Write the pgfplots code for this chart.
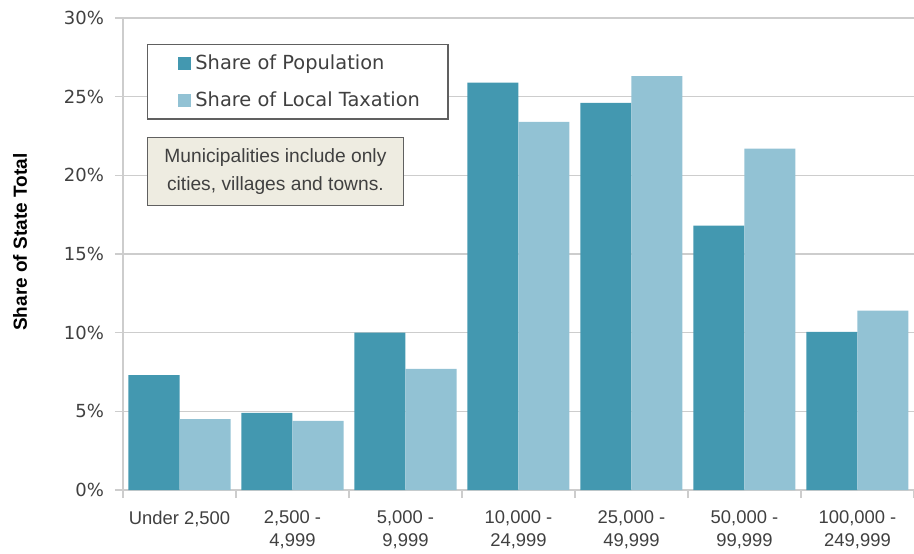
\documentclass[border=0pt]{standalone}
\usepackage{pgfplots}
\pgfplotsset{compat=1.18}
\usepackage{fontspec}
\setmainfont{Liberation Sans}
\newfontfamily\legfont{DejaVu Sans}

\definecolor{popcol}{RGB}{67,152,176}
\definecolor{taxcol}{RGB}{146,194,212}
\definecolor{gridcol}{RGB}{205,205,205}
\definecolor{labcol}{RGB}{64,64,64}
\definecolor{notefill}{RGB}{238,236,225}

\begin{document}
% 1px of the reference = 0.5pt
\begin{tikzpicture}
\useasboundingbox (-61.5pt,-31.5pt) rectangle (395.5pt,245pt);
\begin{axis}[
    at={(0pt,0pt)}, anchor=south west,
    scale only axis,
    width=395.5pt, height=236pt,
    ybar=0pt, bar width=25.5pt,
    xmin=-0.5, xmax=6.5,
    ymin=0, ymax=30,
    ytick={0,5,...,30},
    yticklabel={\pgfmathprintnumber{\tick}\%},
    /pgf/number format/assume math mode=true,
    xtick={0,...,6},
    xticklabels={{Under 2,500},{2,500 -\\4,999},{5,000 -\\9,999},{10,000 -\\24,999},{25,000 -\\49,999},{50,000 -\\99,999},{100,000 -\\249,999}},
    xticklabel style={align=center, font=\fontsize{9.2}{11.5}\selectfont, text=labcol, anchor=north, yshift=-3pt},
    yticklabel style={font=\legfont\fontsize{9}{10}\selectfont, text=labcol, xshift=-2pt},
    major x tick style={draw=none},
    minor xtick={-0.5,0.5,...,6.5},
    minor x tick style={gridcol, line width=0.6pt},
    minor tick length=4pt,
    major y tick style={gridcol, line width=0.6pt},
    major tick length=4pt,
    tick align=outside,
    axis x line*=bottom, axis y line*=left,
    axis line style={gridcol, line width=0.6pt, -},
    ymajorgrids, grid style={gridcol, line width=0.6pt},
    ylabel={\bfseries Share of State Total},
    ylabel style={font=\fontsize{9.5}{10}\selectfont, text=black,
        at={(rel axis cs:-0.13,0.525)}, anchor=center},
    legend style={at={(0.030,0.945)}, anchor=north west, draw=gray!75!black, line width=0.7pt,
        font=\legfont\fontsize{9.7}{11}\selectfont, text=labcol, row sep=5.5pt,
        inner xsep=12pt, inner ysep=3pt, legend cell align=left},
    legend image code/.code={\path (0pt,0pt); \fill[#1] (3.5pt,-3.3pt) rectangle (10pt,3.3pt);},
    clip=false,
]
\addplot[fill=popcol, draw=none] coordinates {(0,7.3) (1,4.9) (2,10.0) (3,25.9) (4,24.6) (5,16.8) (6,10.05)};
\addplot[fill=taxcol, draw=none] coordinates {(0,4.5) (1,4.4) (2,7.7) (3,23.4) (4,26.3) (5,21.7) (6,11.4)};
\legend{Share of Population, Share of Local Taxation}
\node[draw=gray!75!black, line width=0.7pt, fill=notefill, anchor=north west,
      minimum width=128pt, minimum height=34pt, align=center, inner sep=2pt,
      font=\fontsize{9.6}{14}\selectfont, text=labcol]
  at (rel axis cs:0.030,0.748) {Municipalities include only\\cities, villages and towns.};
\end{axis}
\end{tikzpicture}
\end{document}
